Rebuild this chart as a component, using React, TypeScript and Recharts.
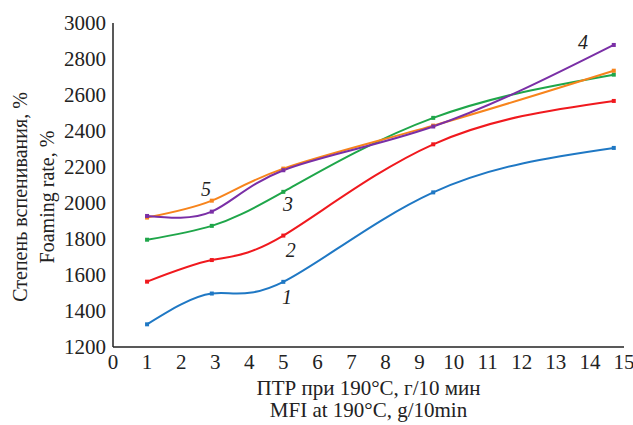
import { LineChart, Line, XAxis, YAxis, ReferenceDot } from "recharts";

// MFI at 190°C, g/10min
const mfi = [1, 2.9, 5, 9.4, 14.7];

// foaming rate, %
const curve1 = [1326, 1497, 1562, 2059, 2306];
const curve2 = [1563, 1683, 1819, 2326, 2567];
const curve3 = [1796, 1873, 2062, 2473, 2713];
const curve4 = [1928, 1952, 2182, 2425, 2878];
const curve5 = [1919, 2013, 2191, 2430, 2735];

const xTicks = [0, 1, 2, 3, 4, 5, 6, 7, 8, 9, 10, 11, 12, 13, 14, 15];
const yTicks = [1200, 1400, 1600, 1800, 2000, 2200, 2400, 2600, 2800, 3000];

// curve number labels: [label, mfi, foaming rate]
const curveLabels: [string, number, number][] = [
  ["1", 5.11, 1478],
  ["2", 5.22, 1739],
  ["3", 5.14, 1994],
  ["4", 13.8, 2894],
  ["5", 2.73, 2078],
];

const series = [
  { key: "c1", color: "#1f78c4" },
  { key: "c2", color: "#f0191e" },
  { key: "c3", color: "#1fa64a" },
  { key: "c5", color: "#f7841c" },
  { key: "c4", color: "#7a2fa6" },
];

const data = mfi.map((x, i) => ({
  x,
  c1: curve1[i],
  c2: curve2[i],
  c3: curve3[i],
  c4: curve4[i],
  c5: curve5[i],
}));

const minorX: number[] = [];
for (let i = 0; i <= 75; i++) minorX.push(Math.round(i * 2) / 10);
const minorY: number[] = [];
for (let v = 1200; v <= 3000; v += 40) minorY.push(v);

const FONT = "'Liberation Serif', 'Times New Roman', serif";
const AXIS = "#222";

const XTick = (p: any) => (
  <text x={p.x} y={p.y} dy="0.71em" textAnchor="middle" fill="#222" fontSize={21} style={{ fontFamily: FONT }}>
    {p.payload.value}
  </text>
);

const YTick = (p: any) => (
  <text x={p.x} y={p.y} dy="0.355em" textAnchor="end" fill="#222" fontSize={21} style={{ fontFamily: FONT }}>
    {p.payload.value}
  </text>
);

const CurveLabel = (t: string) => (p: any) => {
  const vb = p.viewBox || {};
  return (
    <text
      x={vb.x + (vb.width || 0) / 2}
      y={vb.y + (vb.height || 0) / 2}
      dy="0.355em"
      textAnchor="middle"
      fill="#222"
      fontSize={20}
      style={{ fontFamily: FONT, fontStyle: "italic" }}
    >
      {t}
    </text>
  );
};

const titleLine = { whiteSpace: "nowrap" as const, textAlign: "center" as const };

export default function App() {
  return (
    <div style={{ position: "absolute", left: 0, top: 0, width: 633, height: 425, fontFamily: FONT }}>
      <LineChart width={633} height={425} data={data} margin={{ top: 23, right: 9, left: 0, bottom: 0 }}>
        <XAxis
          xAxisId="main"
          dataKey="x"
          type="number"
          domain={[0, 15]}
          ticks={xTicks}
          interval={0}
          height={78}
          tickLine={false}
          tickMargin={1}
          axisLine={{ stroke: AXIS, strokeWidth: 1.5 }}
          tick={XTick}
        />
        <XAxis xAxisId="maj" type="number" domain={[0, 15]} ticks={xTicks} interval={0} mirror height={0}
          tick={false} axisLine={false} tickSize={4} tickLine={{ stroke: AXIS }} />
        <XAxis xAxisId="min" type="number" domain={[0, 15]} ticks={minorX} interval={0} mirror height={0}
          tick={false} axisLine={false} tickSize={3} tickLine={{ stroke: AXIS }} />
        <XAxis xAxisId="top" orientation="top" type="number" domain={[0, 15]} height={0}
          tick={false} tickLine={false} axisLine={{ stroke: AXIS, strokeWidth: 1.5 }} />
        <YAxis
          yAxisId="main"
          type="number"
          domain={[1200, 3000]}
          ticks={yTicks}
          interval={0}
          width={113}
          tickLine={false}
          tickMargin={1}
          axisLine={{ stroke: AXIS, strokeWidth: 1.5 }}
          tick={YTick}
        />
        <YAxis yAxisId="maj" type="number" domain={[1200, 3000]} ticks={yTicks} interval={0} mirror width={0}
          tick={false} axisLine={false} tickSize={5} tickLine={{ stroke: AXIS }} />
        <YAxis yAxisId="min" type="number" domain={[1200, 3000]} ticks={minorY} interval={0} mirror width={0}
          tick={false} axisLine={false} tickSize={3} tickLine={{ stroke: AXIS }} />
        <YAxis yAxisId="right" orientation="right" type="number" domain={[1200, 3000]} width={0}
          tick={false} tickLine={false} axisLine={{ stroke: AXIS, strokeWidth: 1.5 }} />
        {series.map((s) => (
          <Line
            key={s.key}
            xAxisId="main"
            yAxisId="main"
            type="natural"
            dataKey={s.key}
            stroke={s.color}
            strokeWidth={2}
            isAnimationActive={false}
            dot={(p: any) => (
              <rect key={`${s.key}-${p.index}`} x={p.cx - 2} y={p.cy - 2} width={4} height={4} fill={s.color} />
            )}
            activeDot={false}
          />
        ))}
        {curveLabels.map(([t, x, y]) => (
          <ReferenceDot
            key={t}
            xAxisId="main"
            yAxisId="main"
            x={x}
            y={y}
            r={0}
            fill="none"
            stroke="none"
            label={CurveLabel(t)}
          />
        ))}
      </LineChart>
      <div style={{ position: "absolute", left: 113, width: 511, top: 377, fontSize: 21, lineHeight: "22px", color: "#222" }}>
        <div style={titleLine}>ПТР при 190°C, г/10 мин</div>
        <div style={titleLine}>MFI at 190°C, g/10min</div>
      </div>
      <div
        style={{
          position: "absolute",
          left: 33.5,
          top: 197,
          width: 330,
          marginLeft: -165,
          marginTop: -27,
          height: 54,
          transform: "rotate(-90deg)",
          fontSize: 20,
          lineHeight: "27px",
          color: "#222",
        }}
      >
        <div style={titleLine}>Степень вспенивания, %</div>
        <div style={titleLine}>Foaming rate, %</div>
      </div>
    </div>
  );
}
